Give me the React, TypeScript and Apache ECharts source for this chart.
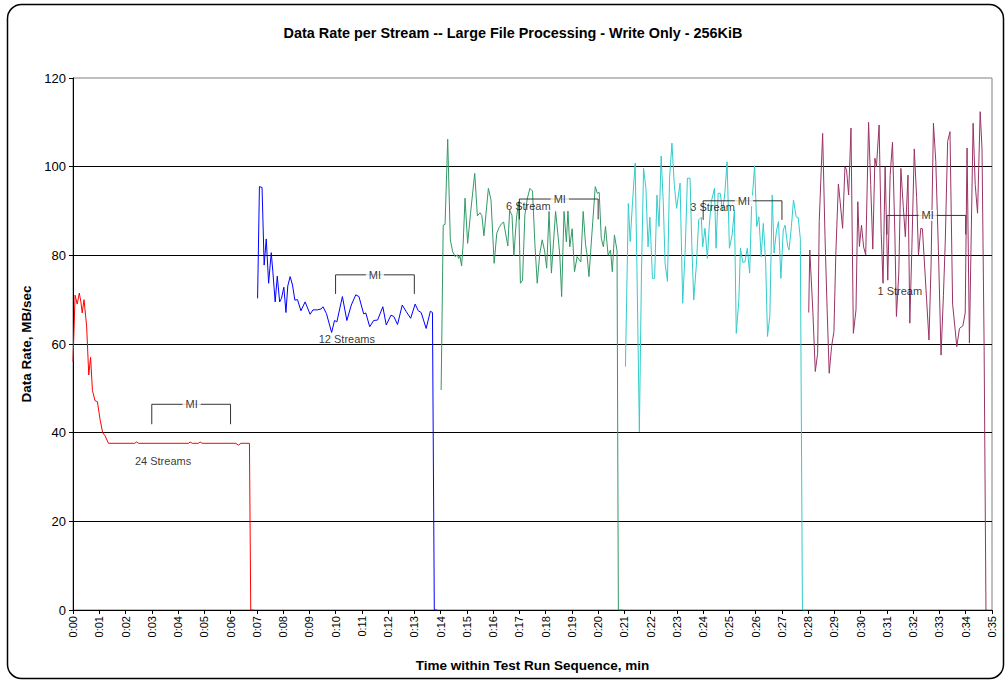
import React, { useEffect, useRef } from "react";
import * as echarts from "echarts";

const FONT = "'Liberation Sans', Arial, Helvetica, sans-serif";

// [minute, MB/sec]
const STREAMS_24: [number, number][] = [
  [0.0, 56], [0.08, 71], [0.16, 69], [0.24, 71.5], [0.3, 69.5], [0.35, 67], [0.42, 70],
  [0.52, 64], [0.6, 53], [0.67, 57], [0.74, 49.5], [0.84, 47.2], [0.93, 47], [1.03, 43],
  [1.13, 40], [1.22, 39.3], [1.35, 37.6], [2.35, 37.6], [2.42, 37.9], [2.5, 37.6],
  [4.4, 37.6], [4.46, 37.9], [4.54, 37.6], [4.78, 37.6], [4.84, 37.9], [4.92, 37.6],
  [6.2, 37.6], [6.3, 37.2], [6.4, 37.6], [6.72, 37.6], [6.77, 0], [6.88, 0],
];

const STREAMS_12: [number, number][] = [
  [7.03, 70.3], [7.1, 95.5], [7.2, 95.3], [7.28, 77.8], [7.36, 83.7], [7.45, 73.7],
  [7.55, 80.6], [7.61, 76.4], [7.7, 69.5], [7.78, 75.3], [7.87, 69.5], [7.94, 70.3],
  [8.03, 72.8], [8.11, 67.1], [8.18, 73.1], [8.27, 75.2], [8.36, 73.3], [8.45, 69.9],
  [8.55, 70], [8.68, 67.5], [8.84, 69.5], [9.03, 66.7], [9.14, 67.7], [9.31, 67.7],
  [9.45, 67.9], [9.52, 68.4], [9.65, 66.9], [9.85, 62.6], [9.96, 65.3], [10.05, 65],
  [10.26, 70.7], [10.43, 65.3], [10.6, 68.8], [10.77, 71.1], [10.89, 70.7], [11.07, 66.8],
  [11.15, 67], [11.3, 63.9], [11.45, 65.3], [11.6, 65.4], [11.8, 68.4], [11.93, 64.3],
  [12.11, 66.5], [12.22, 66.2], [12.36, 64.4], [12.54, 68.8], [12.68, 67.4], [12.86, 65.8],
  [13.03, 69], [13.15, 67.5], [13.26, 67.1], [13.45, 63.5], [13.61, 67.4], [13.69, 67.1],
  [13.76, 0], [13.86, 0],
];

const STREAMS_6: [number, number][] = [
  [14.02, 49.6], [14.1, 86.8], [14.17, 87], [14.27, 106.2], [14.37, 83.5], [14.46, 80.8],
  [14.56, 79.7], [14.64, 80.1], [14.69, 79.3], [14.73, 80], [14.8, 77.6], [14.86, 82.7],
  [14.93, 92.9], [15.03, 82.7], [15.14, 89.5], [15.3, 98.5], [15.4, 88.9], [15.5, 89.6],
  [15.57, 89], [15.65, 84.4], [15.82, 95.1], [15.92, 92.5], [16.04, 78.2], [16.14, 85],
  [16.23, 86.3], [16.33, 87.2], [16.4, 87.5], [16.56, 82.1], [16.63, 90.2], [16.72, 89],
  [16.79, 79.9], [16.89, 88.4], [16.97, 92.1], [17.04, 73.7], [17.12, 74.4], [17.21, 89.1],
  [17.3, 92.7], [17.4, 95.1], [17.5, 94.5], [17.59, 82.7], [17.68, 73.7], [17.78, 80.5],
  [17.87, 83.5], [17.96, 81], [18.04, 77.1], [18.13, 89.9], [18.22, 76], [18.3, 83],
  [18.38, 89.9], [18.48, 84], [18.54, 80], [18.61, 70.7], [18.7, 89.9], [18.79, 83],
  [18.85, 90], [18.92, 81.9], [19.01, 86], [19.1, 76.3], [19.2, 79.7], [19.28, 79],
  [19.34, 78.5], [19.43, 89.9], [19.52, 82.5], [19.58, 80], [19.65, 75.2], [19.74, 83],
  [19.89, 95.5], [19.97, 94], [20.04, 94.2], [20.12, 83.8], [20.2, 81.9], [20.28, 86.5],
  [20.38, 80], [20.47, 81.2], [20.54, 76.3], [20.62, 84.6], [20.72, 81], [20.77, 0], [20.95, 0],
];

const STREAMS_3: [number, number][] = [
  [21.04, 54.9], [21.15, 91.7], [21.22, 83.1], [21.31, 92.1], [21.41, 100.8], [21.48, 76.3],
  [21.57, 40.2], [21.65, 76], [21.73, 99.6], [21.82, 95.1], [21.9, 81.9], [21.97, 88.6],
  [22.07, 74.8], [22.15, 74.8], [22.24, 93.6], [22.32, 86.5], [22.4, 102.4], [22.48, 92],
  [22.55, 78.2], [22.64, 74.1], [22.72, 97.4], [22.81, 105.3], [22.9, 95.9], [22.99, 90.6],
  [23.12, 96.3], [23.22, 69.2], [23.32, 81.9], [23.4, 97.4], [23.5, 97.4], [23.57, 82],
  [23.64, 69.9], [23.74, 77.8], [23.83, 88], [23.93, 88.6], [23.98, 81.9], [24.07, 86.1],
  [24.16, 79.3], [24.23, 86.5], [24.31, 92.1], [24.43, 95.1], [24.49, 81.6], [24.57, 94],
  [24.65, 94], [24.74, 90], [24.82, 93.6], [24.91, 101.1], [25.0, 81.6], [25.1, 84.5],
  [25.19, 90.2], [25.26, 62.4], [25.36, 70], [25.42, 81.6], [25.51, 78.4], [25.59, 78.5],
  [25.68, 81.6], [25.77, 76], [25.84, 90.5], [25.96, 100.2], [26.04, 86.5], [26.12, 88.7],
  [26.21, 79.7], [26.29, 87.2], [26.38, 78.5], [26.45, 61.7], [26.54, 66.4], [26.63, 93.6],
  [26.7, 80.5], [26.79, 85.5], [26.87, 87.6], [26.96, 74.8], [27.05, 85.7], [27.12, 86.8],
  [27.22, 82], [27.27, 81.2], [27.36, 86.5], [27.44, 92.5], [27.54, 88.7], [27.62, 88.5],
  [27.7, 83.8], [27.78, 0], [27.95, 0],
];

const STREAMS_1: [number, number][] = [
  [28.02, 67.1], [28.06, 81.2], [28.18, 67], [28.27, 53.8], [28.36, 57.9], [28.42, 87.6],
  [28.55, 107.5], [28.64, 84.2], [28.72, 68], [28.8, 53.4], [28.89, 59.4], [28.98, 62.8],
  [29.05, 80], [29.15, 96.1], [29.21, 92.5], [29.31, 86.1], [29.4, 100], [29.46, 99.3],
  [29.54, 93.6], [29.63, 108.7], [29.72, 62.4], [29.82, 67.7], [29.89, 92.1], [29.95, 82],
  [30.03, 86.8], [30.11, 81.9], [30.19, 80.1], [30.3, 110], [30.38, 96], [30.46, 81.4],
  [30.54, 101.9], [30.6, 100], [30.7, 109.4], [30.78, 85], [30.85, 73.7], [30.93, 100],
  [31.03, 74.4], [31.12, 98], [31.21, 105.5], [31.3, 85], [31.36, 66.2], [31.45, 76],
  [31.53, 99.6], [31.62, 91], [31.7, 84.2], [31.8, 98.1], [31.87, 64.7], [31.95, 82],
  [32.04, 104], [32.13, 93], [32.2, 80.1], [32.29, 86.1], [32.35, 86], [32.45, 76],
  [32.6, 60.9], [32.68, 78], [32.77, 109.8], [32.86, 101.1], [32.96, 81], [33.06, 57.5],
  [33.15, 71], [33.22, 83], [33.31, 105.7], [33.4, 107.9], [33.5, 69], [33.66, 59.4],
  [33.76, 63.5], [33.89, 64.1], [33.98, 67], [34.05, 104.2], [34.14, 60.2], [34.28, 109.8],
  [34.36, 96], [34.45, 89.5], [34.55, 112.4], [34.62, 104], [34.7, 59.4], [34.77, 0], [34.82, 0],
];

const SERIES_NAMES = ["24 Streams", "12 Streams", "6 Stream", "3 Stream", "1 Stream"];
const SERIES_DATA = [STREAMS_24, STREAMS_12, STREAMS_6, STREAMS_3, STREAMS_1];
const SERIES_COLORS = ["#FF0000", "#0000FF", "#339966", "#33CCCC", "#993366"];

// stream label anchors [minute, MB/sec]
const STREAM_LABEL_POS: [number, number][] = [
  [3.43, 33.6], [10.43, 61.1], [17.34, 91.1], [24.36, 90.8], [31.49, 72],
];

// measurement interval brackets [startMin, endMin, top, bottom]
const MI_BRACKETS: [number, number, number, number][] = [
  [3, 6, 46.4, 41.9],
  [10, 13, 75.6, 71.3],
  [17, 20, 92.7, 88.1],
  [24, 27, 92.3, 88.0],
  [31, 34, 89.0, 84.7],
];
const MI_LABEL_X = [4.52, 11.5, 18.54, 25.55, 32.55];

const TITLE = "Data Rate per Stream -- Large File Processing - Write Only - 256KiB";
const X_NAME = "Time within Test Run Sequence, min";
const Y_NAME = "Data Rate, MB/sec";

export default function App() {
  const ref = useRef<HTMLDivElement>(null);

  useEffect(() => {
    const chart = echarts.init(ref.current!, null, { renderer: "svg" });

    const dataSeries = SERIES_DATA.map((d, i) => ({
      name: SERIES_NAMES[i],
      type: "line",
      data: d,
      showSymbol: false,
      symbol: "none",
      lineStyle: { color: SERIES_COLORS[i], width: 1 },
      itemStyle: { color: SERIES_COLORS[i] },
      silent: true,
      z: 2,
    }));

    const bracketSeries = MI_BRACKETS.map(([a, b, top, bottom]) => ({
      type: "line",
      data: [[a, bottom], [a, top], [b, top], [b, bottom]],
      showSymbol: false,
      symbol: "none",
      lineStyle: { color: "#333333", width: 1 },
      silent: true,
      z: 3,
    }));

    const miLabels = {
      type: "scatter",
      data: MI_BRACKETS.map((br, i) => [MI_LABEL_X[i], br[2]]),
      symbolSize: 1,
      itemStyle: { color: "rgba(0,0,0,0)" },
      silent: true,
      z: 4,
      label: {
        show: true,
        position: "inside",
        formatter: "MI",
        color: "#000",
        fontFamily: FONT,
        fontSize: 11,
        backgroundColor: "#ffffff",
        padding: [0, 3],
      },
    };

    const streamLabels = {
      type: "scatter",
      data: STREAM_LABEL_POS.map((p, i) => ({ value: p, name: SERIES_NAMES[i] })),
      symbolSize: 1,
      itemStyle: { color: "rgba(0,0,0,0)" },
      silent: true,
      z: 4,
      label: {
        show: true,
        position: "inside",
        formatter: (p: any) => p.name,
        color: "#000",
        fontFamily: FONT,
        fontSize: 11,
      },
    };

    chart.setOption({
      animation: false,
      backgroundColor: "#ffffff",
      textStyle: { fontFamily: FONT },
      title: {
        text: TITLE,
        left: 508,
        top: 21,
        textAlign: "center",
        textStyle: { fontFamily: FONT, fontSize: 14.4, fontWeight: "bold", color: "#000" },
      },
      graphic: [
        {
          type: "rect",
          shape: { x: 7.5, y: 4.5, width: 996, height: 674, r: 14 },
          style: { fill: "none", stroke: "#000", lineWidth: 1.5 },
          silent: true,
        },
      ],
      grid: {
        left: 73,
        right: 13,
        top: 78,
        bottom: 71,
        show: true,
        borderColor: "#808080",
        borderWidth: 1,
        backgroundColor: "#ffffff",
      },
      xAxis: {
        type: "value",
        min: 0,
        max: 35,
        interval: 1,
        name: X_NAME,
        nameLocation: "middle",
        nameGap: 48,
        nameTextStyle: { fontFamily: FONT, fontSize: 13.5, fontWeight: "bold", color: "#000" },
        axisLine: { show: true, onZero: false, lineStyle: { color: "#000", width: 1 } },
        axisTick: { show: true, length: 4, lineStyle: { color: "#000" } },
        splitLine: { show: false },
        axisLabel: {
          rotate: 90,
          margin: 6,
          fontFamily: FONT,
          fontSize: 11,
          color: "#000",
          formatter: (v: number) => `0:${String(Math.round(v)).padStart(2, "0")}`,
        },
      },
      yAxis: {
        type: "value",
        min: 0,
        max: 120,
        interval: 20,
        name: Y_NAME,
        nameLocation: "middle",
        nameGap: 37,
        nameTextStyle: { fontFamily: FONT, fontSize: 13.5, fontWeight: "bold", color: "#000" },
        axisLine: { show: true, lineStyle: { color: "#000", width: 1 } },
        axisTick: { show: true, length: 4, lineStyle: { color: "#000" } },
        splitLine: { show: true, showMaxLine: false, showMinLine: false, lineStyle: { color: "#000", width: 1 } },
        axisLabel: { margin: 7, fontFamily: FONT, fontSize: 13, color: "#000" },
      },
      series: [...dataSeries, ...bracketSeries, miLabels, streamLabels],
    });

    return () => chart.dispose();
  }, []);

  return (
    <div
      ref={ref}
      style={{ position: "fixed", left: 0, top: 0, width: 1005, height: 681, background: "#fff" }}
    />
  );
}
